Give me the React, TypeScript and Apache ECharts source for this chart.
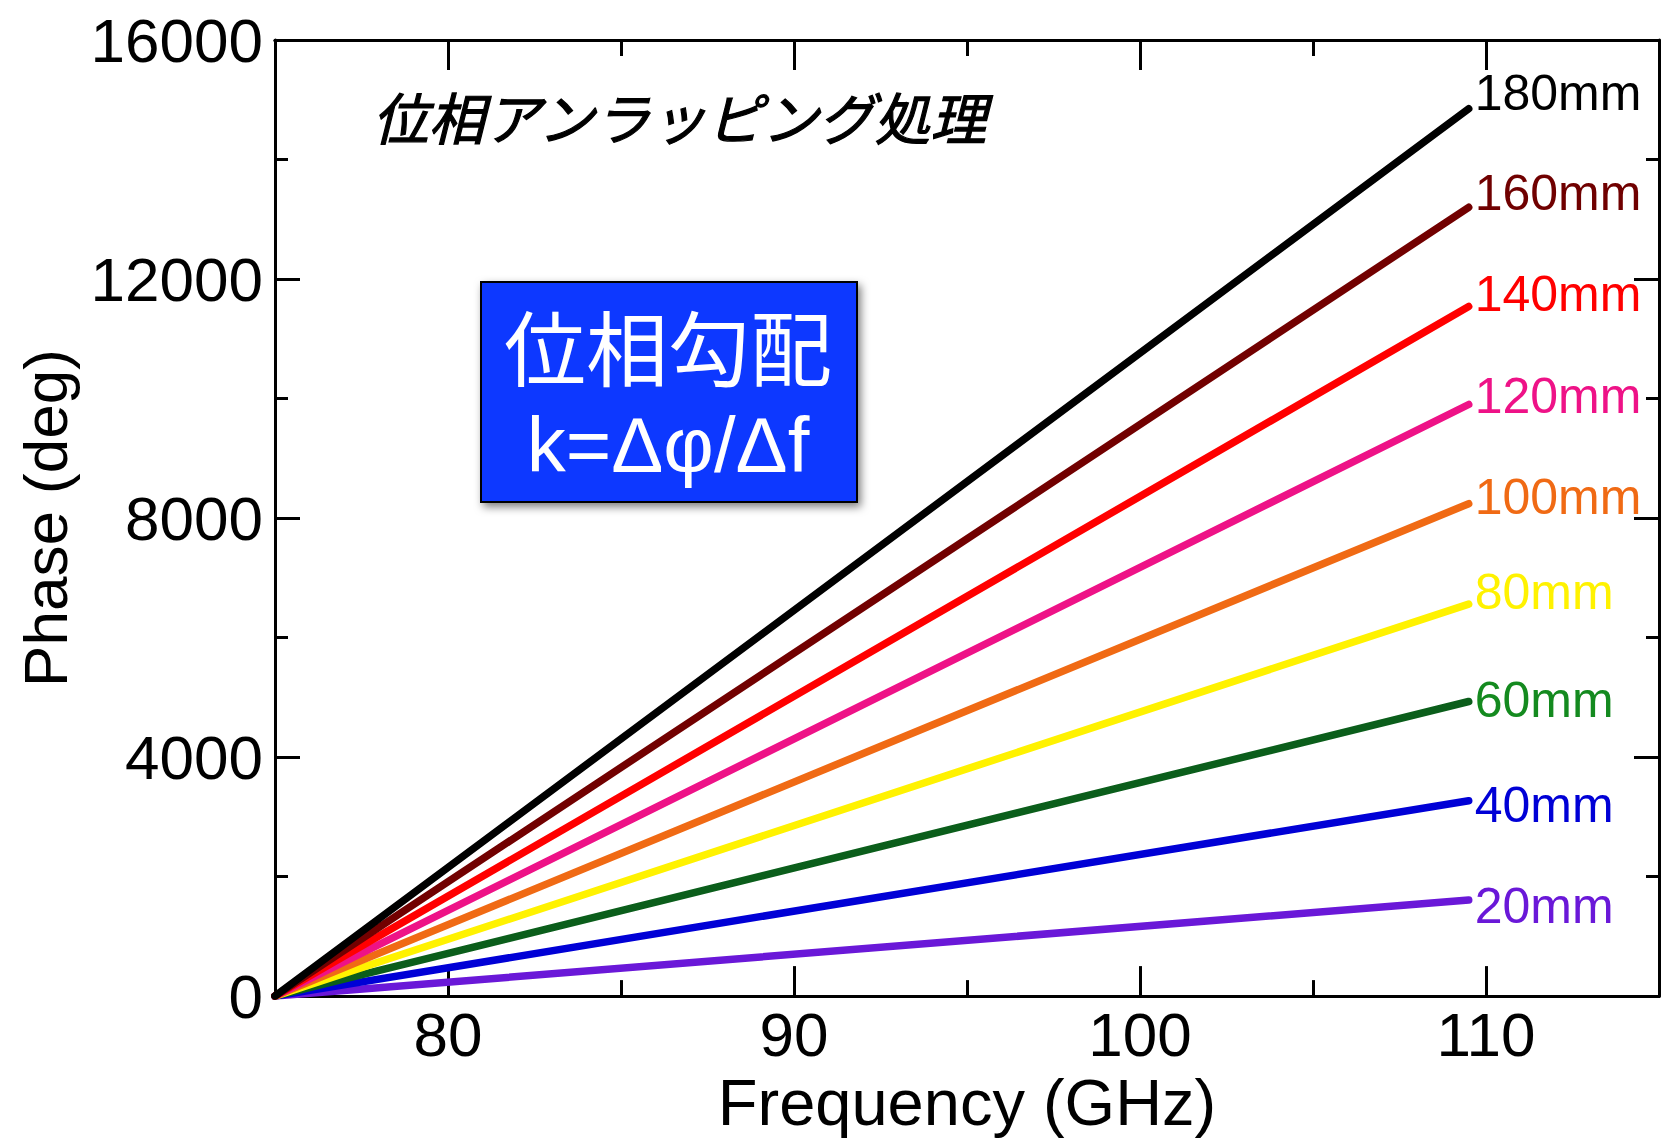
import React, { useEffect, useRef } from "react";
import * as echarts from "echarts";

// Frequency readings (GHz): start and end of every measured trace
const frequencies = [75, 109.5];

// Phase readings (deg) at those frequencies, per path length
const seriesNames = ["180mm", "160mm", "140mm", "120mm", "100mm", "80mm", "60mm", "40mm", "20mm"];
const phase180 = [0, 14850];
const phase160 = [0, 13200];
const phase140 = [0, 11540];
const phase120 = [0, 9900];
const phase100 = [0, 8240];
const phase80 = [0, 6560];
const phase60 = [0, 4930];
const phase40 = [0, 3270];
const phase20 = [0, 1610];
const phaseSeries = [phase180, phase160, phase140, phase120, phase100, phase80, phase60, phase40, phase20];

// Tick labels
const xMajorTicks = [80, 90, 100, 110];
const yTickLabels = [0, 4000, 8000, 12000, 16000];

// Styles (kept apart from data)
const lineColors = ["#000000", "#720000", "#ff0000", "#ee1287", "#f06a14", "#fff200", "#0b5e1b", "#0000d6", "#6a18d8"];
const labelColors = ["#000000", "#700000", "#ff0000", "#ee1287", "#f06a14", "#fff200", "#148a1f", "#0000d6", "#6a18d8"];
const labelOffsetsY = [-16, -14, -13, -9, -7, -12, -2, 4, 6];

const FONT = '"Liberation Sans", Arial, Helvetica, sans-serif';
const CJK = '"Noto Sans CJK JP", "Noto Sans CJK SC", sans-serif';

export default function App() {
  const ref = useRef<HTMLDivElement>(null);

  useEffect(() => {
    if (!ref.current) return;
    const chart = echarts.init(ref.current, null, { renderer: "svg" });

    const axisLine = { show: true, lineStyle: { color: "#000", width: 3 } };
    const baseX = {
      type: "value" as const,
      min: 75,
      max: 115,
      interval: 5,
      splitLine: { show: false },
      axisLine,
    };

    const series = phaseSeries.map((vals, i) => ({
      name: seriesNames[i],
      type: "line" as const,
      xAxisIndex: 0,
      yAxisIndex: 0,
      data: frequencies.map((f, j) => [f, vals[j]]),
      showSymbol: false,
      symbol: "none",
      lineStyle: { color: lineColors[i], width: 7.5, cap: "round" },
      itemStyle: { color: lineColors[i] },
      z: 10 + (phaseSeries.length - i),
      endLabel: {
        show: true,
        formatter: "{a}",
        color: labelColors[i],
        fontSize: 50,
        fontFamily: FONT,
        distance: 6,
        offset: [0, labelOffsetsY[i]],
      },
    }));

    chart.setOption({
      animation: false,
      backgroundColor: "#ffffff",
      grid: { left: 275, right: 2, top: 40, bottom: 133, containLabel: false },
      xAxis: [
        {
          ...baseX,
          position: "bottom",
          axisTick: { show: true, inside: true, length: 16, lineStyle: { color: "#000", width: 3 } },
          axisLabel: { show: false },
        },
        {
          ...baseX,
          position: "bottom",
          axisTick: {
            show: true,
            inside: true,
            length: 30,
            customValues: xMajorTicks,
            lineStyle: { color: "#000", width: 3 },
          },
          axisLabel: {
            show: true,
            customValues: xMajorTicks,
            fontSize: 62,
            fontFamily: FONT,
            color: "#000",
            margin: 7,
          },
          name: "Frequency (GHz)",
          nameLocation: "middle",
          nameGap: 66,
          nameTextStyle: { fontSize: 65, fontFamily: FONT, color: "#000" },
        },
        {
          ...baseX,
          position: "top",
          axisTick: { show: true, inside: true, length: 16, lineStyle: { color: "#000", width: 3 } },
          axisLabel: { show: false },
        },
        {
          ...baseX,
          position: "top",
          axisTick: {
            show: true,
            inside: true,
            length: 30,
            customValues: xMajorTicks,
            lineStyle: { color: "#000", width: 3 },
          },
          axisLabel: { show: false },
        },
      ],
      yAxis: [
        {
          type: "value",
          min: 0,
          max: 16000,
          interval: 4000,
          position: "left",
          splitLine: { show: false },
          axisLine,
          axisTick: { show: true, inside: true, length: 25, lineStyle: { color: "#000", width: 3 } },
          minorTick: { show: true, splitNumber: 2, length: 13, lineStyle: { color: "#000", width: 3 } },
          axisLabel: {
            show: true,
            fontSize: 62,
            fontFamily: FONT,
            color: "#000",
            margin: 12,
            padding: [0, 0, 6, 0],
            formatter: (v: number) => (yTickLabels.includes(v) ? String(v) : ""),
          },
          name: "Phase (deg)",
          nameLocation: "middle",
          nameGap: 199,
          nameTextStyle: { fontSize: 62, fontFamily: FONT, color: "#000" },
        },
        {
          type: "value",
          min: 0,
          max: 16000,
          interval: 4000,
          position: "right",
          splitLine: { show: false },
          axisLine,
          axisTick: { show: true, inside: true, length: 25, lineStyle: { color: "#000", width: 3 } },
          minorTick: { show: true, splitNumber: 2, length: 13, lineStyle: { color: "#000", width: 3 } },
          axisLabel: { show: false },
        },
      ],
      graphic: [
        {
          type: "text",
          left: 372,
          top: 87,
          z: 50,
          style: {
            text: "位相アンラッピング処理",
            font: `italic 56px ${CJK}`,
            fill: "#000",
            stroke: "#000",
            lineWidth: 1.2,
            shadowColor: "rgba(0,0,0,0.45)",
            shadowBlur: 5,
            shadowOffsetX: 2,
            shadowOffsetY: 4,
          },
        },
        {
          type: "rect",
          left: 480,
          top: 281,
          z: 50,
          shape: { width: 376, height: 220 },
          style: {
            fill: "#0a37ff",
            stroke: "#000",
            lineWidth: 2,
            shadowColor: "rgba(0,0,0,0.5)",
            shadowBlur: 8,
            shadowOffsetX: 3,
            shadowOffsetY: 4,
          },
        },
        {
          type: "text",
          x: 668,
          y: 344,
          z: 51,
          style: {
            text: "位相勾配",
            font: `82px ${CJK}`,
            fill: "#fff",
            align: "center",
            verticalAlign: "middle",
          },
        },
        {
          type: "text",
          x: 668,
          y: 445,
          z: 51,
          style: {
            text: "k=Δφ/Δf",
            font: `78px ${FONT}`,
            fill: "#fff",
            align: "center",
            verticalAlign: "middle",
          },
        },
      ],
      series,
    });

    return () => chart.dispose();
  }, []);

  return (
    <div
      ref={ref}
      style={{ position: "fixed", left: 0, top: 0, width: 1661, height: 1140, background: "#fff" }}
    />
  );
}
